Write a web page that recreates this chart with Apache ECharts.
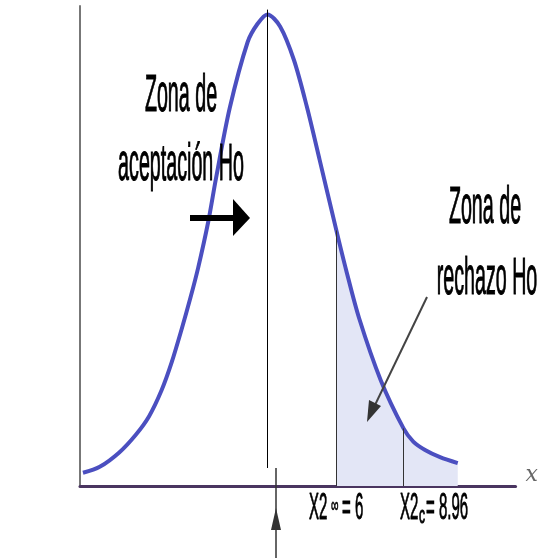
<!DOCTYPE html>
<html>
<head>
<meta charset="utf-8">
<script src="https://cdn.jsdelivr.net/npm/echarts@6/dist/echarts.min.js"></script>
<style>
  html, body { margin: 0; padding: 0; background: #fff; }
  #chart { width: 541px; height: 558px; }
</style>
</head>
<body>
<div id="chart"></div>
<script>
// curve (x in chi-square units, y = density)
const curveX = [-5.17, -4.43, -3.57, -2.83, -2.26, -1.70, -1.26, -0.83, -0.43, -0.09, 0.35, 0.70, 1.30, 2.09, 2.52, 2.96, 3.52, 4.13, 4.70, 5.26, 6.00, 6.43, 7.00, 7.96, 8.96, 9.39, 9.91, 10.57, 11.35];
const curveY = [0.011, 0.016, 0.028, 0.043, 0.058, 0.080, 0.103, 0.130, 0.157, 0.182, 0.220, 0.257, 0.315, 0.370, 0.385, 0.393, 0.383, 0.355, 0.316, 0.272, 0.213, 0.180, 0.140, 0.088, 0.048, 0.037, 0.030, 0.024, 0.019];
const criticalValues = [6, 8.96];   // X2 tabla, X2 calculado
const peakX = 2.96;
const xRange = [-5.3, 13.9];
const yRange = [0, 0.4];

const font = 'Liberation Sans, Arial, sans-serif';
const curve = curveX.map((x, i) => [x, curveY[i]]);
const rejection = curve.filter(p => p[0] >= criticalValues[0]);
const yAt = x => curveY[curveX.indexOf(x)];

const chart = echarts.init(document.getElementById('chart'));

function txt(text, x, y, size, sx, sy, align) {
    return {
        type: 'text', x: x, y: y, scaleX: sx, scaleY: sy, z: 20,
        style: {
            text: text, fill: '#000', stroke: '#000', lineWidth: 0.5,
            fontSize: size, fontFamily: font,
            align: align || 'center', verticalAlign: 'middle'
        }
    };
}

const option = {
    animation: false,
    grid: { left: 80, right: 19, top: 6, bottom: 72 },
    xAxis: {
        type: 'value', min: xRange[0], max: xRange[1],
        axisLine: { lineStyle: { color: '#4a3560', width: 3 } },
        axisTick: { show: false }, axisLabel: { show: false }, splitLine: { show: false },
        name: 'x', nameGap: 10,
        nameTextStyle: { fontFamily: 'DejaVu Serif', fontStyle: 'italic', fontSize: 22, color: '#666', verticalAlign: 'bottom' }
    },
    yAxis: {
        type: 'value', min: yRange[0], max: yRange[1],
        axisLine: { show: true, onZero: false, lineStyle: { color: '#777', width: 2 } },
        axisTick: { show: false }, axisLabel: { show: false }, splitLine: { show: false }
    },
    series: [
        {
            type: 'line', data: rejection, smooth: 0.3, symbol: 'none',
            lineStyle: { width: 0 }, areaStyle: { color: '#e3e6f6', opacity: 1 }, z: 1
        },
        {
            type: 'line', data: curve, smooth: 0.3, symbol: 'none',
            lineStyle: { color: '#4b4fc0', width: 4 }, z: 3,
            markLine: {
                silent: true, symbol: 'none', label: { show: false },
                lineStyle: { type: 'solid', color: '#333', width: 1 },
                data: [
                    [{ coord: [criticalValues[0], 0] }, { coord: [criticalValues[0], yAt(criticalValues[0])] }],
                    [{ coord: [criticalValues[1], 0] }, { coord: [criticalValues[1], yAt(criticalValues[1])] }],
                    [{ coord: [peakX, 0.015], lineStyle: { color: '#000' } }, { coord: [peakX, 0.397] }]
                ]
            }
        }
    ],
    graphic: [
        // acceptance zone
        txt('Zona de', 181, 97, 24, 0.82, 2.15),
        txt('aceptación Ho', 181, 166, 24, 0.82, 2.15),
        { type: 'line', z: 20, shape: { x1: 190, y1: 218, x2: 236, y2: 218 }, style: { stroke: '#000', lineWidth: 6 } },
        { type: 'polygon', z: 20, shape: { points: [[233, 199], [250, 218], [233, 236]] }, style: { fill: '#000' } },
        // rejection zone
        txt('Zona de', 485, 209, 24, 0.82, 2.15),
        txt('rechazo Ho', 487, 280, 24, 0.82, 2.15),
        { type: 'line', z: 20, shape: { x1: 427, y1: 297, x2: 375, y2: 405 }, style: { stroke: '#444', lineWidth: 2 } },
        { type: 'polygon', z: 20, shape: { points: [[367, 422], [369, 400], [381, 406]] }, style: { fill: '#333' } },
        // marker below the axis
        { type: 'line', z: 20, shape: { x1: 276, y1: 468, x2: 276, y2: 558 }, style: { stroke: '#333', lineWidth: 1.5 } },
        { type: 'polygon', z: 20, shape: { points: [[276, 508], [271, 530], [281, 530]] }, style: { fill: '#333' } },
        // critical value labels
        txt('X2', 309, 509, 20, 0.75, 1.89, 'left'),
        txt('∞', 331, 506, 15, 0.7, 1.4, 'left'),
        txt('= 6', 342, 509, 20, 0.75, 1.89, 'left'),
        txt('X2', 400, 509, 20, 0.75, 1.89, 'left'),
        txt('c', 419, 516, 12, 1.0, 2.0, 'left'),
        txt('= 8.96', 426, 509, 20, 0.75, 1.89, 'left')
    ]
};

chart.setOption(option);
</script>
</body>
</html>
